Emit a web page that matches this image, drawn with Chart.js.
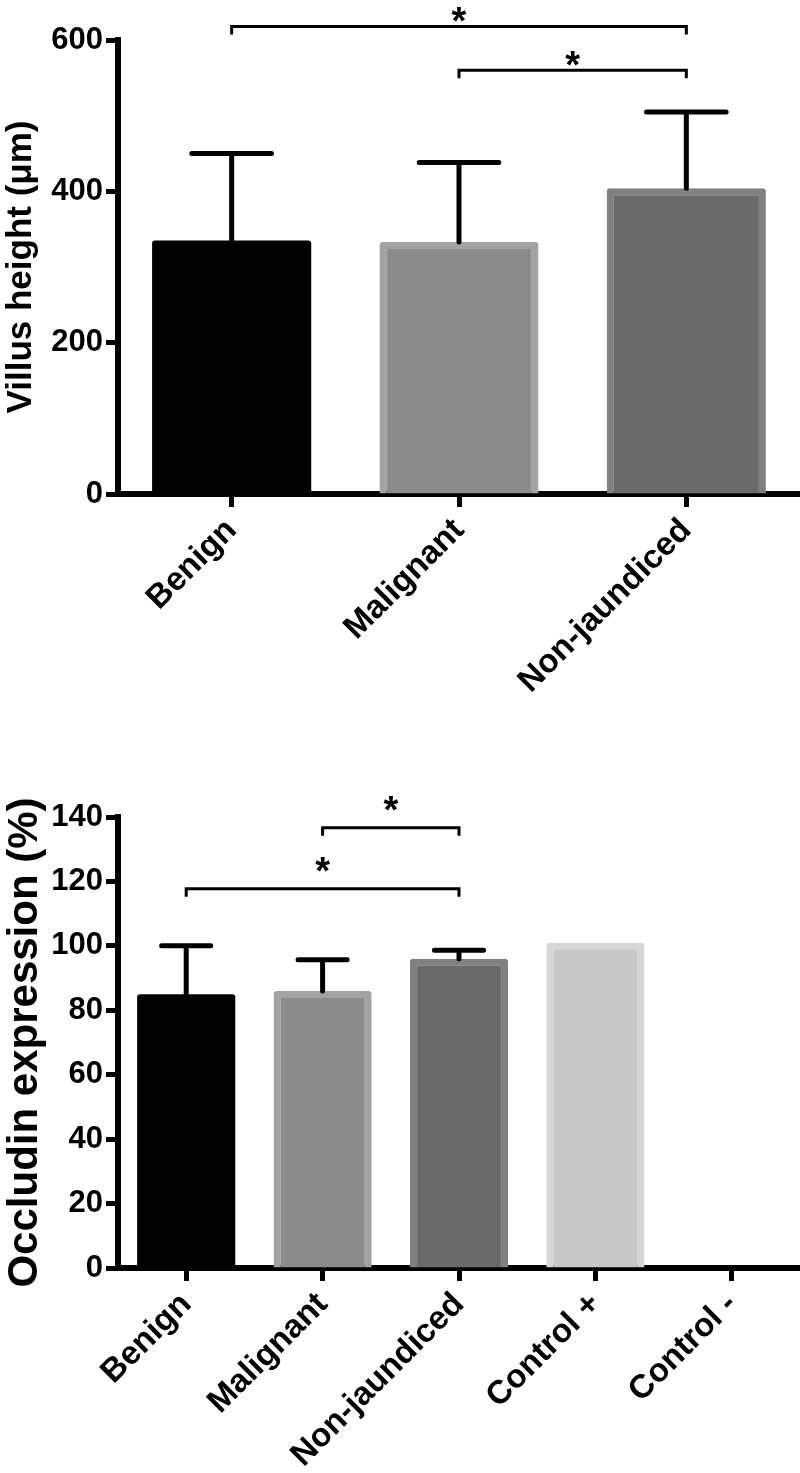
<!DOCTYPE html>
<html>
<head>
<meta charset="utf-8">
<script src="https://cdn.jsdelivr.net/npm/chart.js@4.4.0/dist/chart.umd.min.js"></script>
<style>
    html, body { margin: 0; padding: 0; background: #fff; }
    body { width: 800px; height: 1473px; position: relative; overflow: hidden; }
    canvas { position: absolute; left: 0; }
    #villus-chart { top: 0; }
    #occludin-chart { top: 760px; }
</style>
</head>
<body>
<canvas id="villus-chart" width="800" height="730"></canvas>
<canvas id="occludin-chart" width="800" height="713"></canvas>
<script>
// Villus height (top panel)
const villusLabels = ['Benign', 'Malignant', 'Non-jaundiced'];
const villusMean = [335, 333, 404];
const villusSD = [115, 105, 101];
const villusTicks = [0, 200, 400, 600];
// significance brackets: [from bar, to bar, level]
const villusSig = [[0, 2, 618], [1, 2, 560]];

// Occludin expression (bottom panel)
const occludinLabels = ['Benign', 'Malignant', 'Non-jaundiced', 'Control +', 'Control -'];
const occludinMean = [85, 86, 96, 101, 0];
const occludinSD = [15, 9.7, 2.6, 0, 0];
const occludinTicks = [0, 20, 40, 60, 80, 100, 120, 140];
const occludinSig = [[0, 2, 117.7], [1, 2, 136.7]];

// bar styling
const fillColors = ['#000000', '#8c8c8c', '#6a6a6a', '#c8c8c8', '#ffffff'];
const edgeColors = ['#000000', '#a3a3a3', '#808080', '#d6d6d6', '#ffffff'];
const edgeWidths = [0, 7, 7, 7, 7];

Chart.defaults.font.family = "'Liberation Sans', Arial, sans-serif";
Chart.defaults.font.weight = 'bold';
Chart.defaults.color = '#000';

// SD whiskers drawn on top of bars
const errorBars = {
    id: 'errorBars',
    afterDatasetsDraw(chart, args, opts) {
        const ctx = chart.ctx;
        const y = chart.scales.y;
        const means = chart.data.datasets[0].data;
        const bars = chart.getDatasetMeta(0).data;
        ctx.save();
        ctx.strokeStyle = '#000';
        ctx.lineWidth = 5;
        ctx.lineCap = 'round';
        bars.forEach((bar, i) => {
            const sd = opts.sd[i];
            if (!sd) return;
            const yBase = y.getPixelForValue(means[i]);
            const yTop = y.getPixelForValue(means[i] + sd);
            const half = bar.width / 4;
            ctx.beginPath();
            ctx.moveTo(bar.x, yBase);
            ctx.lineTo(bar.x, yTop);
            ctx.moveTo(bar.x - half, yTop);
            ctx.lineTo(bar.x + half, yTop);
            ctx.stroke();
        });
        ctx.restore();
    }
};

// significance brackets with asterisks
const sigBrackets = {
    id: 'sigBrackets',
    afterDraw(chart, args, opts) {
        const ctx = chart.ctx;
        const x = chart.scales.x;
        const y = chart.scales.y;
        ctx.save();
        ctx.strokeStyle = '#000';
        ctx.fillStyle = '#000';
        ctx.lineWidth = 3;
        ctx.font = "bold 38px 'Liberation Sans', Arial, sans-serif";
        ctx.textAlign = 'center';
        ctx.textBaseline = 'alphabetic';
        opts.pairs.forEach(([a, b, level]) => {
            const x1 = x.getPixelForValue(a);
            const x2 = x.getPixelForValue(b);
            const yl = y.getPixelForValue(level);
            ctx.beginPath();
            ctx.moveTo(x1, yl + 8);
            ctx.lineTo(x1, yl);
            ctx.lineTo(x2, yl);
            ctx.lineTo(x2, yl + 8);
            ctx.stroke();
            ctx.fillText('*', (x1 + x2) / 2, yl + opts.gap);
        });
        ctx.restore();
    }
};

function buildChart(id, cfg) {
    const ctx = document.getElementById(id).getContext('2d');
    const n = cfg.labels.length;
    return new Chart(ctx, {
        type: 'bar',
        data: {
            labels: cfg.labels,
            datasets: [{
                data: cfg.mean,
                backgroundColor: fillColors.slice(0, n),
                borderColor: edgeColors.slice(0, n),
                borderWidth: edgeWidths.slice(0, n),
                borderRadius: 3,
                barPercentage: cfg.barPct,
                categoryPercentage: 1
            }]
        },
        options: {
            responsive: false,
            maintainAspectRatio: false,
            animation: false,
            layout: { padding: { top: cfg.top, left: 0, right: 0, bottom: 0 } },
            scales: {
                x: {
                    grid: { drawOnChartArea: false, offset: false, tickLength: 13, tickWidth: 5, tickColor: '#000' },
                    border: { width: 6, color: '#000' },
                    ticks: {
                        autoSkip: false,
                        minRotation: 45,
                        maxRotation: 45,
                        padding: 4,
                        font: { size: 33, weight: 'bold' }
                    },
                    afterFit: s => { s.height = cfg.xHeight; }
                },
                y: {
                    min: 0,
                    max: cfg.ticks[cfg.ticks.length - 1],
                    grid: { drawOnChartArea: false, tickLength: 12, tickWidth: 5, tickColor: '#000' },
                    border: { width: 6, color: '#000' },
                    ticks: { padding: 3, font: { size: 31, weight: 'bold' } },
                    afterBuildTicks: s => { s.ticks = cfg.ticks.map(v => ({ value: v })); },
                    title: {
                        display: true,
                        text: cfg.title,
                        padding: 0,
                        font: { size: cfg.titleSize, weight: 'bold' }
                    },
                    afterFit: s => { s.width = 118; }
                }
            },
            plugins: {
                legend: { display: false },
                tooltip: { enabled: false },
                errorBars: { sd: cfg.sd },
                sigBrackets: { pairs: cfg.sig, gap: cfg.starGap }
            }
        },
        plugins: [errorBars, sigBrackets]
    });
}

document.addEventListener('DOMContentLoaded', () => {
    buildChart('villus-chart', {
        labels: villusLabels, mean: villusMean, sd: villusSD, ticks: villusTicks, sig: villusSig,
        title: 'Villus height (μm)', titleSize: 35, barPct: 0.70, top: 40, xHeight: 236, starGap: 8
    });
    buildChart('occludin-chart', {
        labels: occludinLabels, mean: occludinMean, sd: occludinSD, ticks: occludinTicks, sig: occludinSig,
        title: 'Occludin expression (%)', titleSize: 42, barPct: 0.72, top: 57, xHeight: 205, starGap: -5
    });
});
</script>
</body>
</html>
